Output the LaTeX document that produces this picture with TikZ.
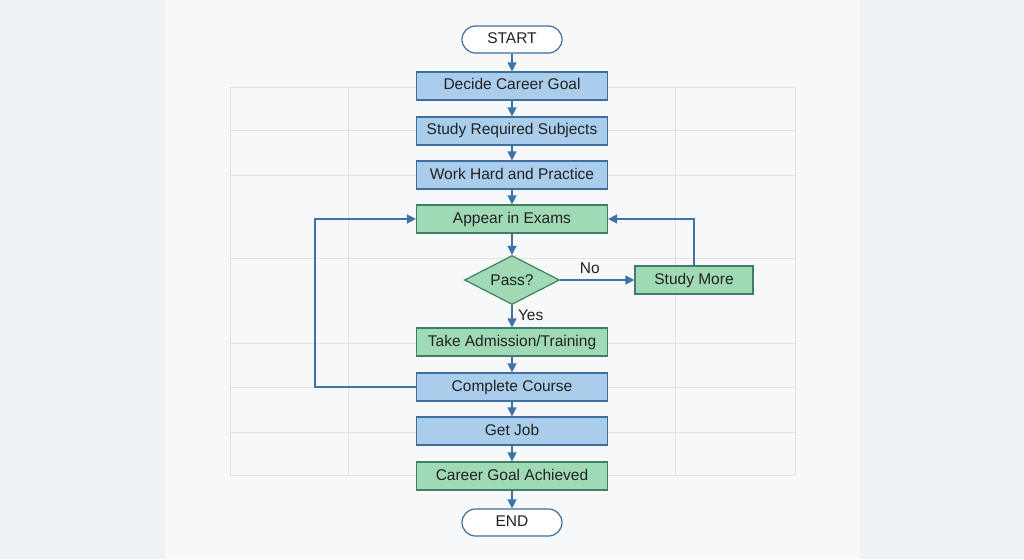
\documentclass[tikz,border=0pt]{standalone}
\usepackage{fontspec}
\setmainfont{Liberation Sans}
\usetikzlibrary{shapes.geometric,arrows.meta}
\definecolor{bfill}{HTML}{A9CDEA}
\definecolor{bdraw}{HTML}{3D6E9C}
\definecolor{gfill}{HTML}{9FD9B6}
\definecolor{gdraw}{HTML}{3F7F66}
\definecolor{arr}{HTML}{3F72A8}
\definecolor{bgc}{HTML}{EEF2F5}
\definecolor{panel}{HTML}{F7F8F9}
\definecolor{gridc}{HTML}{E0E2E5}
\definecolor{txt}{HTML}{222222}
\begin{document}
\begin{tikzpicture}[x=1pt,y=-1pt,
 box/.style={draw=#1,line width=1.2pt,minimum width=191pt,minimum height=28pt,inner sep=0pt,text=txt,text height=11pt,text depth=3pt,font=\fontsize{15.5}{15}\selectfont},
 bb/.style={box=bdraw,fill=bfill},
 gb/.style={box=gdraw,fill=gfill},
 pill/.style={draw=bdraw,line width=1.2pt,fill=white,rounded corners=13.5pt,minimum width=100pt,minimum height=27pt,inner sep=0pt,text=txt,text height=11pt,text depth=3pt,font=\fontsize{15.5}{15}\selectfont},
 ar/.style={draw=arr,line width=1.4pt,-{Triangle[length=9pt,width=9pt]}},
 lbl/.style={text=txt,font=\fontsize{15.5}{15}\selectfont}]
\fill[bgc] (0,0) rectangle (1024,559);
\useasboundingbox (0,0) rectangle (1024,559);
\fill[panel] (165,0) rectangle (860,559);
\begin{scope}[draw=gridc,line width=0.6pt]
\draw (230,87) rectangle (795,475);
\foreach \x in {348,675} \draw (\x,87) -- (\x,475);
\foreach \y in {130,175,258,343,387,432} \draw (230,\y) -- (795,\y);
\end{scope}
\node[pill] (start) at (512,39.5) {START};
\node[bb] (n1) at (512,86) {Decide Career Goal};
\node[bb] (n2) at (512,131) {Study Required Subjects};
\node[bb] (n3) at (512,175) {Work Hard and Practice};
\node[gb] (n4) at (512,219) {Appear in Exams};
\node[diamond,draw=gdraw,fill=gfill,line width=1.2pt,minimum width=95pt,minimum height=49pt,inner sep=0pt,aspect=1.94,text=txt,font=\fontsize{15.5}{15}\selectfont] (d) at (512,280) {Pass?};
\node[gb,minimum width=118pt] (sm) at (694,280) {Study More};
\node[gb] (n5) at (512,342) {Take Admission/Training};
\node[bb] (n6) at (512,387) {Complete Course};
\node[bb] (n7) at (512,431) {Get Job};
\node[gb] (n8) at (512,476) {Career Goal Achieved};
\node[pill] (end) at (512,522.5) {END};
\draw[ar] (start) -- (n1);
\draw[ar] (n1) -- (n2);
\draw[ar] (n2) -- (n3);
\draw[ar] (n3) -- (n4);
\draw[ar] (n4) -- (d);
\draw[ar] (d) -- node[lbl,right=2pt,pos=0.45]{Yes} (n5);
\draw[ar] (d) -- node[lbl,above=2pt,pos=0.4]{No} (sm);
\draw[ar] (sm.north) -- (694,219) -- (n4.east);
\draw[ar] (n5) -- (n6);
\draw[ar] (n6.west) -- (315,387) -- (315,219) -- (n4.west);
\draw[ar] (n6) -- (n7);
\draw[ar] (n7) -- (n8);
\draw[ar] (n8) -- (end);
\end{tikzpicture}
\end{document}
